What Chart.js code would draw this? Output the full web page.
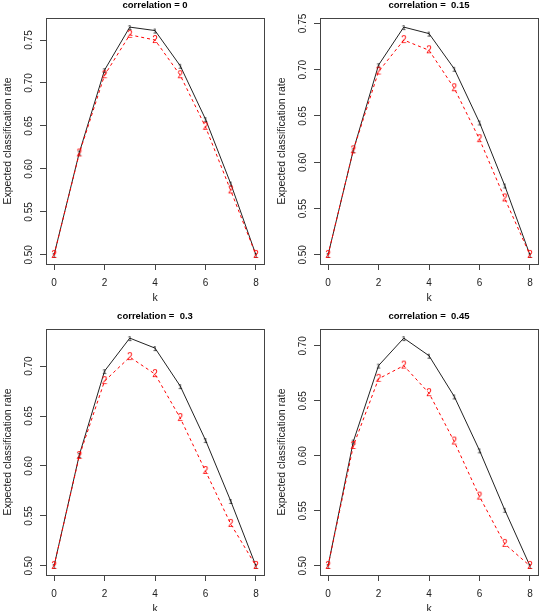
<!DOCTYPE html>
<html>
<head>
<meta charset="utf-8">
<script src="https://cdn.jsdelivr.net/npm/chart.js@4"></script>
<style>
    html, body { margin: 0; padding: 0; background: #fff; }
    #wrap { position: relative; width: 539px; height: 611px; overflow: hidden; background: #fff; }
    canvas { position: absolute; }
</style>
</head>
<body>
<div id="wrap">
    <canvas id="c1" width="269" height="311" style="left:0px;top:-6px"></canvas>
    <canvas id="c2" width="269" height="311" style="left:274px;top:-6px"></canvas>
    <canvas id="c3" width="269" height="311" style="left:0px;top:305px"></canvas>
    <canvas id="c4" width="269" height="311" style="left:274px;top:305px"></canvas>
</div>
<script>
// k values and tick labels
const kValues = [0, 1, 2, 3, 4, 5, 6, 7, 8];
const xTicks = [0, 2, 4, 6, 8];
const yTicks = [0.50, 0.55, 0.60, 0.65, 0.70, 0.75];

// correlation = 0
const black0 = [0.500, 0.619, 0.715, 0.765, 0.761, 0.720, 0.658, 0.583, 0.500];
const red0   = [0.500, 0.618, 0.709, 0.756, 0.750, 0.709, 0.649, 0.575, 0.500];
// correlation = 0.15
const black15 = [0.500, 0.613, 0.705, 0.746, 0.739, 0.701, 0.643, 0.575, 0.500];
const red15   = [0.500, 0.613, 0.698, 0.732, 0.721, 0.680, 0.625, 0.561, 0.500];
// correlation = 0.3
const black30 = [0.500, 0.611, 0.695, 0.728, 0.718, 0.680, 0.626, 0.565, 0.500];
const red30   = [0.500, 0.610, 0.685, 0.709, 0.692, 0.648, 0.595, 0.542, 0.500];
// correlation = 0.45
const black45 = [0.500, 0.613, 0.682, 0.707, 0.691, 0.654, 0.605, 0.551, 0.500];
const red45   = [0.500, 0.609, 0.670, 0.682, 0.657, 0.613, 0.563, 0.520, 0.500];

const FONT = '"Liberation Sans", Arial, Helvetica, sans-serif';
const AXIS_COLOR = '#444';

// small text glyphs used as point markers (like R's pch "1" / "2")
function glyph(ch, color, size) {
    const c = document.createElement('canvas');
    c.width = 14;
    c.height = 14;
    const g = c.getContext('2d');
    g.font = size + 'px ' + FONT;
    g.fillStyle = color;
    g.textAlign = 'center';
    g.textBaseline = 'middle';
    g.fillText(ch, 7, 7.5);
    return c;
}
const glyph1 = glyph('1', '#000', 8);
const glyph2 = glyph('2', '#ff0000', 10);

// frame around the plot region
const boxPlugin = {
    id: 'box',
    afterDatasetsDraw(chart) {
        const { ctx, chartArea: a } = chart;
        ctx.save();
        ctx.strokeStyle = AXIS_COLOR;
        ctx.lineWidth = 1;
        ctx.strokeRect(Math.round(a.left) + 0.5, Math.round(a.top) + 0.5,
            Math.round(a.right - a.left), Math.round(a.bottom - a.top));
        ctx.restore();
    }
};

function points(ys) {
    return kValues.map((k, i) => ({ x: k, y: ys[i] }));
}

function makeChart(id, title, black, red) {
    const lo = Math.min(...black, ...red);
    const hi = Math.max(...black, ...red);
    const yPad = (hi - lo) * 0.04;
    const xPad = (kValues[kValues.length - 1] - kValues[0]) * 0.04;
    const xMin = kValues[0] - xPad;
    const xMax = kValues[kValues.length - 1] + xPad;

    const ctx = document.getElementById(id).getContext('2d');
    return new Chart(ctx, {
        type: 'line',
        data: {
            datasets: [
                {
                    label: '2',
                    data: points(red),
                    borderColor: '#ff0000',
                    borderWidth: 1,
                    borderDash: [3, 3],
                    pointStyle: glyph2,
                    pointRadius: 4,
                    tension: 0,
                    fill: false
                },
                {
                    label: '1',
                    data: points(black),
                    borderColor: '#222',
                    borderWidth: 1,
                    pointStyle: glyph1,
                    pointRadius: 4,
                    tension: 0,
                    fill: false
                }
            ]
        },
        options: {
            responsive: false,
            animation: false,
            devicePixelRatio: 1,
            layout: { padding: { left: 0, right: 5, top: 0, bottom: 0 } },
            plugins: {
                legend: { display: false },
                tooltip: { enabled: false },
                title: { display: false }
            },
            scales: {
                x: {
                    type: 'linear',
                    position: 'bottom',
                    min: xMin,
                    max: xMax,
                    afterBuildTicks: s => { s.ticks = xTicks.map(v => ({ value: v })); },
                    afterFit: s => { s.height = 41; },
                    ticks: {
                        color: '#222',
                        font: { family: FONT, size: 10 },
                        padding: 7,
                        maxRotation: 0,
                        autoSkip: false,
                        callback: v => String(v)
                    },
                    grid: { drawOnChartArea: false, tickLength: 6, color: AXIS_COLOR },
                    border: { display: false },
                    title: {
                        display: true,
                        text: 'k',
                        color: '#222',
                        font: { family: FONT, size: 10.5 },
                        padding: { top: 0, bottom: 1 }
                    }
                },
                top: {
                    type: 'linear',
                    axis: 'x',
                    position: 'top',
                    min: xMin,
                    max: xMax,
                    afterFit: s => { s.height = 24; },
                    ticks: { display: false },
                    grid: { display: false },
                    border: { display: false },
                    title: {
                        display: true,
                        text: title,
                        color: '#000',
                        font: { family: FONT, size: 9.5, weight: 'bold' },
                        padding: { top: 6, bottom: 0 }
                    }
                },
                y: {
                    type: 'linear',
                    min: lo - yPad,
                    max: hi + yPad,
                    afterBuildTicks: s => {
                        s.ticks = yTicks
                            .filter(v => v >= s.min - 1e-9 && v <= s.max + 1e-9)
                            .map(v => ({ value: v }));
                    },
                    afterFit: s => { s.width = 46; },
                    ticks: {
                        color: '#222',
                        font: { family: FONT, size: 10 },
                        minRotation: 90,
                        maxRotation: 90,
                        crossAlign: 'center',
                        padding: 1,
                        autoSkip: false,
                        callback: v => Number(v).toFixed(2)
                    },
                    grid: { drawOnChartArea: false, tickLength: 6, color: AXIS_COLOR },
                    border: { display: false },
                    title: {
                        display: true,
                        text: 'Expected classification rate',
                        color: '#222',
                        font: { family: FONT, size: 10.5 },
                        padding: { top: 2, bottom: 0 }
                    }
                }
            }
        },
        plugins: [boxPlugin]
    });
}

makeChart('c1', 'correlation = 0', black0, red0);
makeChart('c2', 'correlation =  0.15', black15, red15);
makeChart('c3', 'correlation =  0.3', black30, red30);
makeChart('c4', 'correlation =  0.45', black45, red45);
</script>
</body>
</html>
